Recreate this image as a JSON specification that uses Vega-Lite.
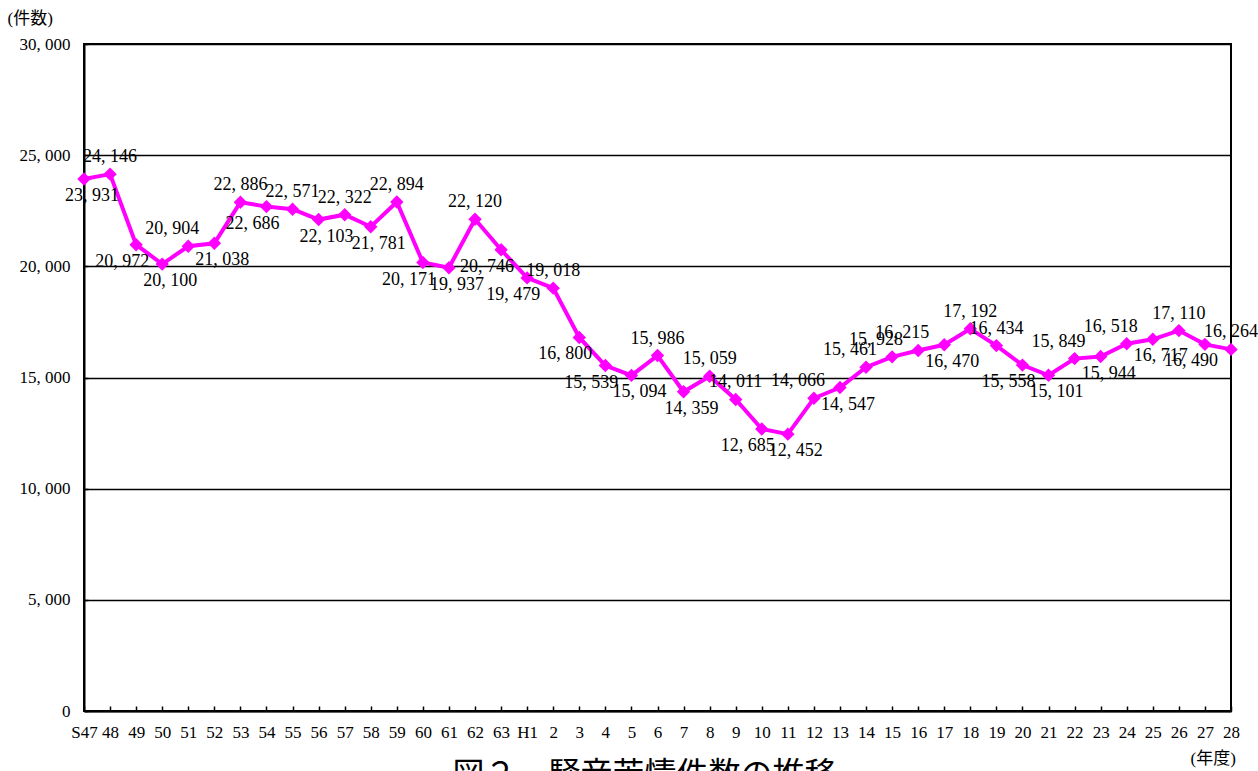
{
  "$schema": "https://vega.github.io/schema/vega-lite/v6.json",
  "width": 1147,
  "height": 667,
  "autosize": {"type": "none"},
  "padding": {"left": 84, "top": 44, "right": 27, "bottom": 60},
  "background": "white",
  "title": {
    "text": "図２　騒音苦情件数の推移",
    "orient": "bottom",
    "anchor": "middle",
    "frame": "group",
    "fontSize": 32,
    "font": "Noto Sans CJK JP",
    "fontWeight": "normal",
    "color": "#000",
    "offset": -6,
    "dx": -13,
    "baseline": "top"
  },
  "config": {
    "locale": {"number": {"decimal": ".", "thousands": ", ", "grouping": [3], "currency": ["", ""]}},
    "font": "'Liberation Serif', 'DejaVu Serif', 'Noto Sans CJK JP'",
    "text": {"font": "'Liberation Serif', 'DejaVu Serif', 'Noto Sans CJK JP'"},
    "axis": {"labelFont": "'Liberation Serif', 'DejaVu Serif', 'Noto Sans CJK JP'", "titleFont": "'Liberation Serif', 'DejaVu Serif', 'Noto Sans CJK JP'"},
    "view": {"stroke": "#000", "strokeWidth": 2}
  },
  "data": {
    "values": [
      {"year": "S47", "count": 23931},
      {"year": "48", "count": 24146},
      {"year": "49", "count": 20972},
      {"year": "50", "count": 20100},
      {"year": "51", "count": 20904},
      {"year": "52", "count": 21038},
      {"year": "53", "count": 22886},
      {"year": "54", "count": 22686},
      {"year": "55", "count": 22571},
      {"year": "56", "count": 22103},
      {"year": "57", "count": 22322},
      {"year": "58", "count": 21781},
      {"year": "59", "count": 22894},
      {"year": "60", "count": 20171},
      {"year": "61", "count": 19937},
      {"year": "62", "count": 22120},
      {"year": "63", "count": 20746},
      {"year": "H1", "count": 19479},
      {"year": "2", "count": 19018},
      {"year": "3", "count": 16800},
      {"year": "4", "count": 15539},
      {"year": "5", "count": 15094},
      {"year": "6", "count": 15986},
      {"year": "7", "count": 14359},
      {"year": "8", "count": 15059},
      {"year": "9", "count": 14011},
      {"year": "10", "count": 12685},
      {"year": "11", "count": 12452},
      {"year": "12", "count": 14066},
      {"year": "13", "count": 14547},
      {"year": "14", "count": 15461},
      {"year": "15", "count": 15928},
      {"year": "16", "count": 16215},
      {"year": "17", "count": 16470},
      {"year": "18", "count": 17192},
      {"year": "19", "count": 16434},
      {"year": "20", "count": 15558},
      {"year": "21", "count": 15101},
      {"year": "22", "count": 15849},
      {"year": "23", "count": 15944},
      {"year": "24", "count": 16518},
      {"year": "25", "count": 16717},
      {"year": "26", "count": 17110},
      {"year": "27", "count": 16490},
      {"year": "28", "count": 16264}
    ]
  },
  "transform": [
    {"window": [{"op": "lag", "field": "count", "as": "prev"}, {"op": "lead", "field": "count", "as": "next"}]},
    {"calculate": "datum.count - ((datum.prev == null ? datum.count : datum.prev) + (datum.next == null ? 0 : datum.next)) / 2", "as": "curv"},
    {"calculate": "datum.next != null && datum.next > datum.count", "as": "rising"}
  ],
  "encoding": {
    "x": {
      "field": "year",
      "type": "ordinal",
      "sort": null,
      "scale": {"type": "point", "padding": 0},
      "axis": {
        "title": "(年度)",
        "titleX": 1106,
        "titleY": 47,
        "titleAlign": "left",
        "titleBaseline": "middle",
        "titleFontSize": 17,
        "titleFontWeight": "normal",
        "titleColor": "#000",
        "labelAngle": 0,
        "labelFontSize": 17,
        "labelColor": "#000",
        "labelPadding": 18,
        "labelBaseline": "top",
        "tickSize": -5,
        "tickColor": "#000",
        "tickWidth": 1.5,
        "domainColor": "#000",
        "domainWidth": 2,
        "grid": false
      }
    },
    "y": {
      "field": "count",
      "type": "quantitative",
      "scale": {"domain": [0, 30000], "nice": false},
      "axis": {
        "title": "(件数)",
        "titleAngle": 0,
        "titleX": -77,
        "titleY": -26,
        "titleAlign": "left",
        "titleBaseline": "middle",
        "titleFontSize": 17,
        "titleFontWeight": "normal",
        "titleColor": "#000",
        "values": [0, 5000, 10000, 15000, 20000, 25000, 30000],
        "format": ",d",
        "labelFontSize": 17,
        "labelColor": "#000",
        "labelPadding": 18,
        "tickSize": -4,
        "tickColor": "#000",
        "tickWidth": 1.5,
        "domainColor": "#000",
        "domainWidth": 2,
        "grid": true,
        "gridColor": "#000",
        "gridWidth": 1.3
      }
    }
  },
  "layer": [
    {"mark": {"type": "line", "color": "#FF00FF", "strokeWidth": 4}},
    {"mark": {"type": "point", "shape": "diamond", "filled": true, "color": "#FF00FF", "size": 180, "opacity": 1}},
    {
      "transform": [{"filter": "datum.curv >= 0 && datum.rising"}],
      "mark": {"type": "text", "baseline": "bottom", "dy": -8, "dx": -16, "fontSize": 18, "color": "#000"},
      "encoding": {"text": {"field": "count", "type": "quantitative", "format": ","}}
    },
    {
      "transform": [{"filter": "datum.curv >= 0 && !datum.rising"}],
      "mark": {"type": "text", "baseline": "bottom", "dy": -8, "fontSize": 18, "color": "#000"},
      "encoding": {"text": {"field": "count", "type": "quantitative", "format": ","}}
    },
    {
      "transform": [{"filter": "datum.curv < 0 && !datum.rising"}],
      "mark": {"type": "text", "baseline": "top", "dy": 8, "dx": -14, "fontSize": 18, "color": "#000"},
      "encoding": {"text": {"field": "count", "type": "quantitative", "format": ","}}
    },
    {
      "transform": [{"filter": "datum.curv < 0 && datum.rising"}],
      "mark": {"type": "text", "baseline": "top", "dy": 8, "dx": 8, "fontSize": 18, "color": "#000"},
      "encoding": {"text": {"field": "count", "type": "quantitative", "format": ","}}
    }
  ]
}
